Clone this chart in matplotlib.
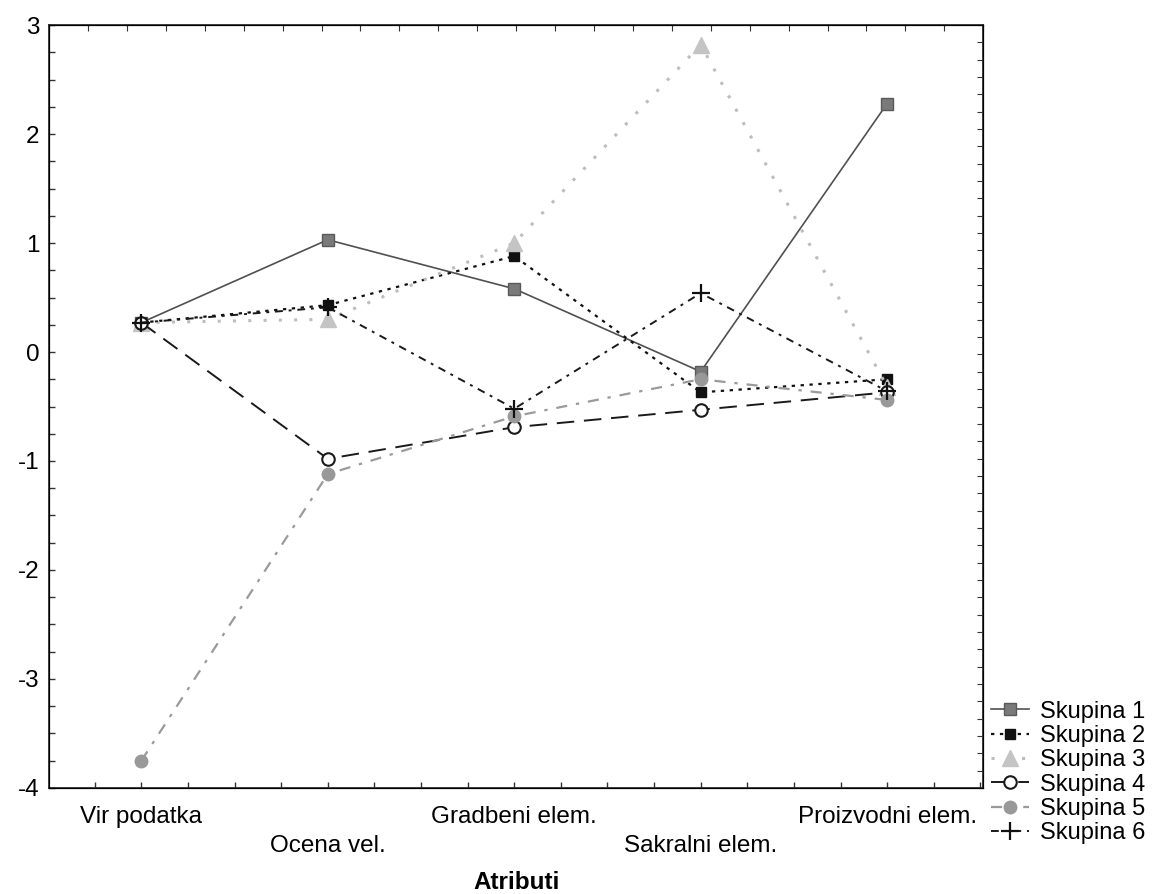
import matplotlib
matplotlib.use('Agg')
import matplotlib.pyplot as plt
from matplotlib.ticker import MultipleLocator, NullFormatter

plt.rcParams['font.family'] = ['Liberation Sans', 'DejaVu Sans']

attributes = ['Vir podatka', 'Ocena vel.', 'Gradbeni elem.', 'Sakralni elem.', 'Proizvodni elem.']

skupina1 = [0.27, 1.03, 0.58, -0.18, 2.28]
skupina2 = [0.27, 0.43, 0.88, -0.37, -0.25]
skupina3 = [0.27, 0.30, 1.00, 2.82, -0.32]
skupina4 = [0.27, -0.98, -0.69, -0.53, -0.37]
skupina5 = [-3.75, -1.12, -0.59, -0.25, -0.44]
skupina6 = [0.27, 0.41, -0.52, 0.54, -0.36]

fs = 17.5

fig = plt.figure(figsize=(11.54, 8.94), dpi=100)
ax = fig.add_axes([0.0425, 0.1186, 0.8095, 0.8534])

x = list(range(len(attributes)))

ax.plot(x, skupina1, '-', color='#505050', lw=1.2, marker='s', ms=9,
        mfc='#7a7a7a', mec='#5a5a5a', label='Skupina 1')
ax.plot(x, skupina2, color='#111111', lw=1.6, ls=(0, (1.5, 2.5)), marker='s', ms=7,
        mfc='#111111', mec='#111111', label='Skupina 2')
ax.plot(x, skupina3, color='#bdbdbd', lw=2.2, ls=(0, (1, 4)), marker='^', ms=11,
        mfc='#c4c4c4', mec='#c4c4c4', label='Skupina 3')
ax.plot(x, skupina4, color='#1a1a1a', lw=1.4, ls=(0, (9, 5)), marker='o', ms=9,
        mfc='white', mec='#1a1a1a', mew=1.5, label='Skupina 4')
ax.plot(x, skupina5, color='#9a9a9a', lw=1.6, ls=(0, (5, 4, 1.5, 4)), marker='o', ms=9,
        mfc='#999999', mec='#999999', label='Skupina 5')
ax.plot(x, skupina6, color='#1a1a1a', lw=1.4, ls=(0, (4, 3, 1.5, 3)), marker='+', ms=13,
        mec='#111111', mew=1.6, label='Skupina 6')

ax.set_xlim(-0.495, 4.515)
ax.set_ylim(-4, 3)
ax.set_xticks(x)
ax.set_xticklabels(attributes, fontsize=fs)
ax.xaxis.set_minor_locator(MultipleLocator(0.25))
ax.yaxis.set_minor_locator(MultipleLocator(0.25))
ax.set_yticks(range(-4, 4))
ax.set_yticklabels([str(v) for v in range(-4, 4)], fontsize=fs)
ax.tick_params(which='both', direction='in', length=4, width=1, color='#333333')
ax.tick_params(axis='y', pad=7)
for i, tick in enumerate(ax.xaxis.get_major_ticks()):
    tick.set_pad(13 if i % 2 == 0 else 34)

for s in ax.spines.values():
    s.set_linewidth(1.3)
    s.set_color('#333333')

# mirrored top/right ticks, different spacing as in the original
top = ax.twiny()
top.set_xlim(0, 24)
top.xaxis.set_major_locator(MultipleLocator(1))
top.xaxis.set_major_formatter(NullFormatter())
top.tick_params(direction='in', length=4, color='#333333')
right = ax.twinx()
right.set_ylim(0, 44)
right.yaxis.set_major_locator(MultipleLocator(1))
right.yaxis.set_major_formatter(NullFormatter())
right.tick_params(direction='in', length=4, color='#333333')

ax.set_xlabel('Atributi', fontsize=fs, fontweight='bold', labelpad=10)

handles, labels = ax.get_legend_handles_labels()
fig.legend(handles, labels, loc='center left', bbox_to_anchor=(0.859, 0.136),
           frameon=False, fontsize=17, handlelength=1.6, handletextpad=0.45,
           labelspacing=0.1, borderaxespad=0, borderpad=0)

fig.savefig('out.png', dpi=100)
